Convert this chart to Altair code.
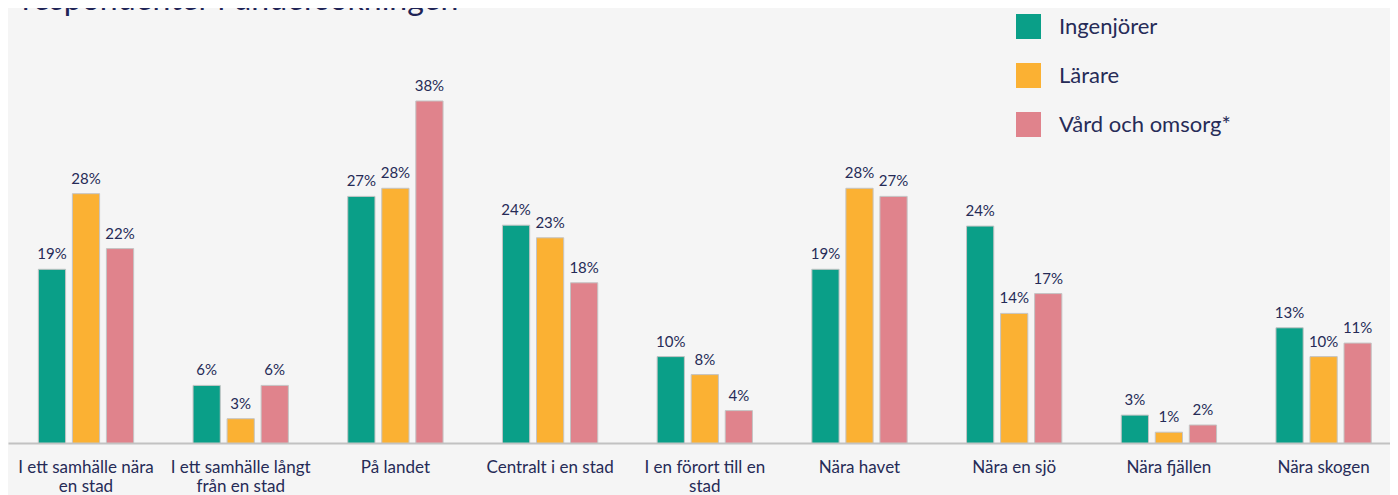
import altair as alt
import pandas as pd

title_text = "respondenter i undersökningen"

categories = [
    "I ett samhälle nära en stad",
    "I ett samhälle långt från en stad",
    "På landet",
    "Centralt i en stad",
    "I en förort till en stad",
    "Nära havet",
    "Nära en sjö",
    "Nära fjällen",
    "Nära skogen",
]
category_lines = [
    ["I ett samhälle nära", "en stad"],
    ["I ett samhälle långt", "från en stad"],
    ["På landet"],
    ["Centralt i en stad"],
    ["I en förort till en", "stad"],
    ["Nära havet"],
    ["Nära en sjö"],
    ["Nära fjällen"],
    ["Nära skogen"],
]

series = ["Ingenjörer", "Lärare", "Vård och omsorg*"]
ingenjorer = [19.3, 6.4, 27.4, 24.2, 9.6, 19.3, 24.1, 3.1, 12.8]
larare = [27.7, 2.7, 28.3, 22.8, 7.6, 28.3, 14.4, 1.2, 9.6]
vard = [21.6, 6.4, 38.0, 17.8, 3.6, 27.4, 16.6, 2.0, 11.1]

colors = ["#0A9F88", "#FBB133", "#E0838C"]
navy = "#262B57"
font = "Lato"

rows = []
for i, c in enumerate(categories):
    for s, vals in zip(series, [ingenjorer, larare, vard]):
        rows.append({"Plats": c, "Grupp": s, "Andel": vals[i]})
df = pd.DataFrame(rows)

# label expression for multi-line axis labels
parts = []
for c, lines in zip(categories, category_lines):
    arr = "[" + ",".join("'" + l + "'" for l in lines) + "]"
    parts.append(f"datum.label == '{c}' ? {arr} : ")
label_expr = "".join(parts) + "datum.label"

x = alt.X(
    "Plats:N",
    sort=categories,
    scale=alt.Scale(paddingInner=0.34, paddingOuter=0.1742, range=[0, 1393.6]),
    axis=alt.Axis(
        title=None,
        labelAngle=0,
        labelFontSize=17,
        labelFont=font,
        labelColor=navy,
        labelPadding=16,
        labelBaseline="top",
        labelLineHeight=19,
        labelLimit=0,
        ticks=False,
        domainColor="#C2C2C2",
        domainWidth=2,
        labelExpr=label_expr,
    ),
)
xoff = alt.XOffset("Grupp:N", sort=series, scale=alt.Scale(paddingInner=0.2, paddingOuter=0.1))
y = alt.Y("Andel:Q", scale=alt.Scale(domain=[0, 48.33], nice=False, zero=True), axis=None)
color = alt.Color(
    "Grupp:N",
    sort=series,
    scale=alt.Scale(domain=series, range=colors),
    legend=alt.Legend(
        title=None,
        orient="none",
        legendX=1008,
        legendY=6,
        symbolType="square",
        symbolSize=625,
        symbolStrokeWidth=0,
        labelFontSize=22,
        labelFont=font,
        labelColor=navy,
        labelOffset=18,
        labelLimit=0,
        rowPadding=24,
        padding=0,
    ),
)

base = alt.Chart(df)
bars = base.mark_bar(stroke="#C4C4C4", strokeWidth=1).encode(x=x, xOffset=xoff, y=y, color=color)
labels = (
    base.transform_calculate(lbl="round(datum.Andel) + '%'")
    .mark_text(dy=-10, baseline="alphabetic", fontSize=15, font=font, color=navy)
    .encode(x=x, xOffset=xoff, y=y, text="lbl:N")
)
title = (
    alt.Chart(pd.DataFrame({"t": [title_text]}))
    .mark_text(align="left", baseline="alphabetic", fontSize=32, font=font, color="#1F2456")
    .encode(x=alt.value(14), y=alt.value(2), text="t:N")
)

chart = (
    alt.layer(bars, labels, title)
    .properties(
        width=1382,
        height=435,
        autosize=alt.AutoSizeParams(type="none"),
        padding={"left": 0, "top": 0, "right": 0, "bottom": 52},
        background="#F5F5F5",
    )
    .configure_view(stroke=None)
)

chart.save("out.html", embed_options={"renderer": "svg", "actions": False})
